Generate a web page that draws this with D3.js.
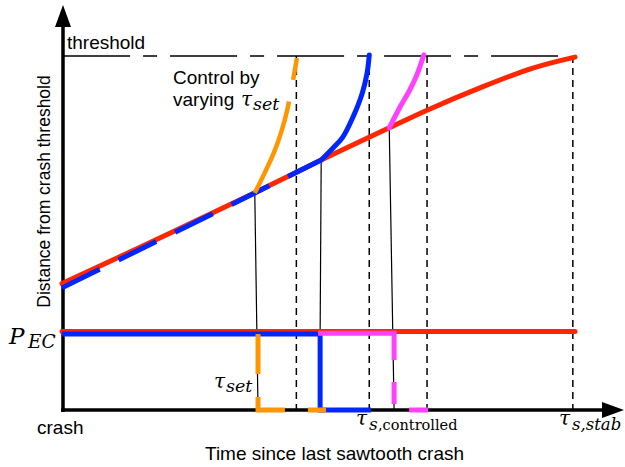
<!DOCTYPE html>
<html>
<head>
<meta charset="utf-8">
<script src="https://cdn.jsdelivr.net/npm/d3@7"></script>
<style>
  html, body { margin: 0; padding: 0; background: #fff; }
  svg { display: block; }
</style>
</head>
<body>
<svg id="chart" width="625" height="467"></svg>
<script>
// ---------- data (time since crash, distance from threshold; both in arbitrary 0-100 units) ----------
const redCurveT = [0, 18.1, 35.7, 48.0, 60.6, 67.6, 77.4, 87.2, 95.0];
const redCurveD = [35.7, 48.6, 61.4, 70.6, 79.7, 84.7, 91.0, 96.6, 99.7];

const blueBaseT = [0, 35.7, 48.0];
const blueBaseD = [34.5, 61.3, 70.6];
const blueRiseT = [48.0, 50.2, 52.0, 53.9, 55.6, 56.5, 56.9];
const blueRiseD = [70.6, 74.0, 77.1, 82.8, 89.5, 95.2, 100.3];

const orangeRiseT = [35.7, 37.6, 39.3, 40.6, 41.7, 42.6, 43.5];
const orangeRiseD = [61.3, 67.2, 72.9, 78.5, 84.7, 91.5, 99.4];

const magentaRiseT = [60.6, 62.6, 64.4, 65.7, 67.0];
const magentaRiseD = [79.7, 85.6, 90.4, 94.6, 100.3];

// power at P_EC level, then drop
const redPecT = [0, 95.0];
const redPecD = [22.2, 22.2];
const bluePecT = [0, 47.8, 47.8, 57.2];
const bluePecD = [21.5, 21.5, 0, 0];
const orangePecT = [36.3, 36.3, 48.9];
const orangePecD = [21.5, 0, 0];
const magentaPecT = [47.4, 61.5, 61.5, 67.8];
const magentaPecD = [21.7, 21.7, 0, 0];

// thin connectors (start t, start d, end t, end d)
const connT1 = [35.7, 48.0, 60.6];
const connD1 = [61.3, 70.6, 79.7];
const connT2 = [36.3, 47.8, 61.5];
const connD2 = [0, 21.5, 0];

// dashed vertical markers
const markerT = [43.4, 56.9, 67.6, 94.6];

const thresholdD = 100;
const thresholdT = [0.2, 94.0];

// ---------- scales ----------
const x = d3.scaleLinear().domain([0, 100]).range([62, 602]);
const y = d3.scaleLinear().domain([0, 100]).range([410, 56]);

const svg = d3.select("#chart");
const zip = (ts, ds) => ts.map((t, i) => [t, ds[i]]);
const lineLin = d3.line().x(d => x(d[0])).y(d => y(d[1]));
const lineSmooth = d3.line().x(d => x(d[0])).y(d => y(d[1])).curve(d3.curveCatmullRom.alpha(0.5));

const RED = "#ff2600", BLUE = "#0026ff", ORANGE = "#ff9500", MAGENTA = "#ff40ff";

// threshold line
svg.append("line")
  .attr("x1", x(thresholdT[0])).attr("x2", x(thresholdT[1]))
  .attr("y1", y(thresholdD)).attr("y2", y(thresholdD))
  .attr("stroke", "#000").attr("stroke-width", 1.5)
  .attr("stroke-dasharray", "67,13,14,13");

// dashed vertical markers
svg.selectAll("line.marker").data(markerT).join("line")
  .attr("class", "marker")
  .attr("x1", d => x(d)).attr("x2", d => x(d))
  .attr("y1", y(thresholdD)).attr("y2", y(0))
  .attr("stroke", "#000").attr("stroke-width", 1.5)
  .attr("stroke-dasharray", "7,5");

// thin connectors
svg.selectAll("line.conn").data(connT1.map((t, i) => i)).join("line")
  .attr("class", "conn")
  .attr("x1", i => x(connT1[i])).attr("y1", i => y(connD1[i]))
  .attr("x2", i => x(connT2[i])).attr("y2", i => y(connD2[i]))
  .attr("stroke", "#000").attr("stroke-width", 1.2);

// axes
const axisG = svg.append("g");
axisG.append("line")
  .attr("x1", x(0) + 1).attr("y1", y(0) + 2)
  .attr("x2", x(0) + 1).attr("y2", 22)
  .attr("stroke", "#000").attr("stroke-width", 3.5);
axisG.append("path")
  .attr("d", (() => { const p = d3.path(); p.moveTo(x(0) + 1, 5); p.lineTo(x(0) - 7, 27); p.lineTo(x(0) + 9, 27); p.closePath(); return p.toString(); })())
  .attr("fill", "#000");
axisG.append("line")
  .attr("x1", x(0) - 1).attr("y1", y(0))
  .attr("x2", 606).attr("y2", y(0))
  .attr("stroke", "#000").attr("stroke-width", 3.5);
axisG.append("path")
  .attr("d", (() => { const p = d3.path(); p.moveTo(624, y(0)); p.lineTo(602, y(0) - 8); p.lineTo(602, y(0) + 8); p.closePath(); return p.toString(); })())
  .attr("fill", "#000");

// red curve
svg.append("path").attr("d", lineSmooth(zip(redCurveT, redCurveD)))
  .attr("fill", "none").attr("stroke", RED).attr("stroke-width", 5).attr("stroke-linecap", "round");

// blue dashed base over red
svg.append("path").attr("d", lineLin(zip(blueBaseT, blueBaseD)))
  .attr("fill", "none").attr("stroke", BLUE).attr("stroke-width", 5)
  .attr("stroke-dasharray", "42,21");
// blue rise
svg.append("path").attr("d", lineSmooth(zip(blueRiseT, blueRiseD)))
  .attr("fill", "none").attr("stroke", BLUE).attr("stroke-width", 5).attr("stroke-linecap", "round");

// orange rise (dashed near top)
const orangePath = svg.append("path").attr("d", lineSmooth(zip(orangeRiseT, orangeRiseD)))
  .attr("fill", "none").attr("stroke", ORANGE).attr("stroke-width", 4.5);
const oL = orangePath.node().getTotalLength();
orangePath.attr("stroke-dasharray", `${oL - 44},22,22`);

// magenta rise
svg.append("path").attr("d", lineSmooth(zip(magentaRiseT, magentaRiseD)))
  .attr("fill", "none").attr("stroke", MAGENTA).attr("stroke-width", 5).attr("stroke-linecap", "round");

// P_EC level lines
svg.append("path").attr("d", lineLin(zip(redPecT, redPecD)))
  .attr("fill", "none").attr("stroke", RED).attr("stroke-width", 5).attr("stroke-linecap", "round");
svg.append("path").attr("d", lineLin(zip(bluePecT, bluePecD)))
  .attr("fill", "none").attr("stroke", BLUE).attr("stroke-width", 5);
svg.append("path").attr("d", lineLin(zip(orangePecT, orangePecD)))
  .attr("fill", "none").attr("stroke", ORANGE).attr("stroke-width", 5)
  .attr("stroke-dasharray", "40,23");
svg.append("path").attr("d", lineLin(zip(magentaPecT, magentaPecD)))
  .attr("fill", "none").attr("stroke", MAGENTA).attr("stroke-width", 5)
  .attr("stroke-dasharray", "103,22,22,21,20");

// ---------- text ----------
const sans = "'Liberation Sans', Arial, Helvetica, sans-serif";
const serif = "'DejaVu Serif', serif";
function txt(s, xx, yy, size, family, style) {
  return svg.append("text").attr("x", xx).attr("y", yy)
    .attr("font-family", family).attr("font-size", size)
    .attr("font-style", style || "normal").attr("fill", "#000").text(s);
}
txt("threshold", 67, 49, 19, sans);
txt("Control by", 173, 84, 19, sans);
txt("varying", 173, 106, 19, sans);
txt("τ", 241, 106, 20, serif, "italic");
txt("set", 253, 110, 17.5, serif, "italic");

txt("P", 9, 344, 23, serif, "italic");
txt("EC", 28, 348, 18.5, serif, "italic");

txt("τ", 214, 388, 20, serif, "italic");
txt("set", 226, 392, 17.5, serif, "italic");

txt("τ", 356, 425, 20, serif, "italic");
txt("s", 369, 430, 17, serif, "italic");
txt(",controlled", 378, 430, 14.5, serif);

txt("τ", 559, 425, 20, serif, "italic");
txt("s,stab", 572, 430, 16.5, serif, "italic");

txt("crash", 37, 434, 19, sans);
txt("Time since last sawtooth crash", 205, 460, 19, sans);

svg.append("text")
  .attr("transform", "translate(50,191.5) rotate(-90)")
  .attr("text-anchor", "middle")
  .attr("font-family", sans).attr("font-size", 17.5)
  .text("Distance from crash threshold");
</script>
</body>
</html>
